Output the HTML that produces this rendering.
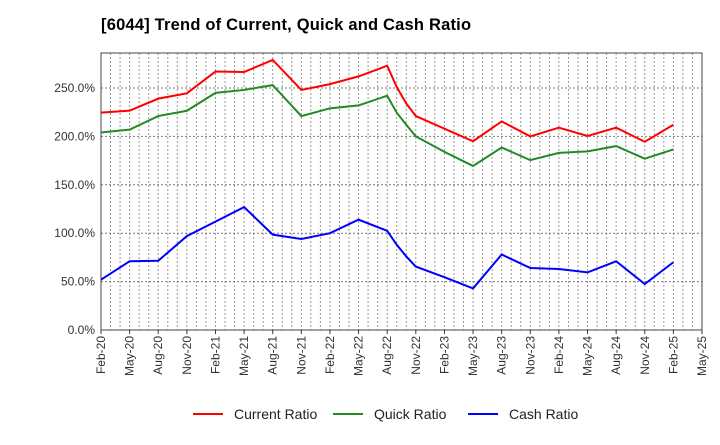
<!DOCTYPE html>
<html><head><meta charset="utf-8"><style>
body{margin:0;background:#fff;font-family:"Liberation Sans",sans-serif}
</style></head><body>
<svg id="c" width="720" height="440" xmlns="http://www.w3.org/2000/svg">
<text x="101" y="30" font-size="16.5" font-weight="bold" fill="#000" letter-spacing="0.2">[6044]  Trend of Current, Quick and Cash Ratio</text>
<g id="grid"></g><g id="axes"></g><g id="series"></g><g id="legend"></g>
</svg>
<script>
const months = [0,3,6,9,12,15,18,21,24,27,30,31,32,33,36,39,42,45,48,51,54,57,60];
const current = [224.5,226.6,239,244.5,267,266.5,279,248,254,262,273,251,234,221,208,195,215.5,200,209,200.5,209,194.5,212];
const quick = [204,207,221,226.5,245,248,253,221,229,232,242,224.5,212,200,184,169.5,188.5,175.5,183,184.5,190,177,186.5];
const cash = [52,71,71.5,97,112,127,98.5,94,100,114,102.5,88,76,65.5,54.5,43,78,64,63,59.5,71,47.5,70];
const yTicks = [0,50,100,150,200,250];
const xTickLabels = ["Feb-20","May-20","Aug-20","Nov-20","Feb-21","May-21","Aug-21","Nov-21","Feb-22","May-22","Aug-22","Nov-22","Feb-23","May-23","Aug-23","Nov-23","Feb-24","May-24","Aug-24","Nov-24","Feb-25","May-25"];
const L=101,R=702,T=53,B=330;
const xs=m=>L+m*(R-L)/63;
const ys=v=>B-v*(B-88)/250;
const NS="http://www.w3.org/2000/svg";
function mk(tag,attrs,parent){const e=document.createElementNS(NS,tag);for(const k in attrs)e.setAttribute(k,attrs[k]);document.getElementById(parent).appendChild(e);return e;}
for(let m=1;m<63;m++){const g=mk('line',{x1:xs(m),x2:xs(m),y1:T,y2:B,stroke:'#999','stroke-dasharray':'2,2','stroke-width':1},'grid');

}
yTicks.forEach(v=>{const g=mk('line',{x1:L,x2:R,y1:ys(v),y2:ys(v),stroke:'#777','stroke-dasharray':'2,2','stroke-width':1},'grid');


const t=mk('text',{x:L-6,y:ys(v)+4,'text-anchor':'end','font-size':12,fill:'#333'},'axes');t.textContent=v.toFixed(1)+'%';

});
xTickLabels.forEach((s,i)=>{const x=xs(i*3);const t=mk('text',{x:0,y:0,transform:`translate(${x+4},${B+6}) rotate(-90)`,'text-anchor':'end','font-size':12,fill:'#333'},'axes');t.textContent=s;


const k=mk('line',{x1:x,x2:x,y1:B,y2:B+4,stroke:'#333'},'axes');

});
const frame=mk('rect',{x:L,y:T,width:R-L,height:B-T,fill:'none',stroke:'#444','stroke-width':1},'axes');


const defs=[[current,'#ff0000','current-ratio-line','Current Ratio',195],[quick,'#228b22','quick-ratio-line','Quick Ratio',335],[cash,'#0000ff','cash-ratio-line','Cash Ratio',470]];
defs.forEach(([d,c,n,lab,lx])=>{const p=mk('polyline',{points:d.map((v,i)=>xs(months[i])+','+ys(v)).join(' '),fill:'none',stroke:c,'stroke-width':2},'series');


const g=mk('g',{},'legend');


const l=document.createElementNS(NS,'line');l.setAttribute('x1',lx-2);l.setAttribute('x2',lx+28);l.setAttribute('y1',414);l.setAttribute('y2',414);l.setAttribute('stroke',c);l.setAttribute('stroke-width',2);g.appendChild(l);
const t=document.createElementNS(NS,'text');t.setAttribute('x',lx+39);t.setAttribute('y',419);t.setAttribute('font-size',14);t.setAttribute('fill','#222');t.textContent=lab;g.appendChild(t);});
</script>
</body></html>
